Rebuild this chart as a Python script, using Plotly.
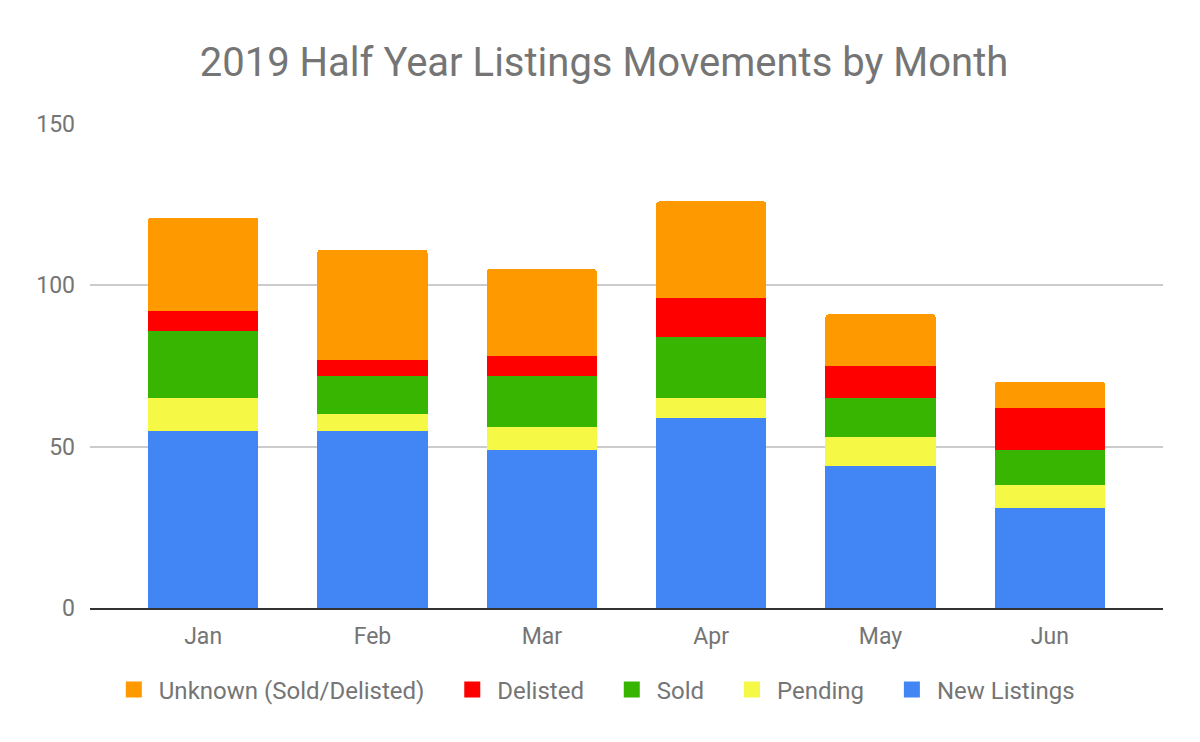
import plotly.graph_objects as go

months = ["Jan", "Feb", "Mar", "Apr", "May", "Jun"]
new_listings = [55, 55, 49, 59, 44, 31]
pending = [10, 5, 7, 6, 9, 7]
sold = [21, 12, 16, 19, 12, 11]
delisted = [6, 5, 6, 12, 10, 13]
unknown = [29, 34, 27, 30, 16, 8]

series = [
    ("New Listings", new_listings, "#4285F4"),
    ("Pending", pending, "#F5F845"),
    ("Sold", sold, "#38B500"),
    ("Delisted", delisted, "#FF0000"),
    ("Unknown (Sold/Delisted)", unknown, "#FF9900"),
]

W, H = 1192, 734
PAD = "\u00a0\u00a0\u00a0"

fig = go.Figure()
for name, vals, color in series:
    fig.add_trace(go.Bar(
        x=months, y=vals, name=name,
        marker=dict(color=color, line=dict(width=0)),
        width=0.65, showlegend=False,
    ))
# legend entries with larger square swatches
for i, (name, vals, color) in enumerate(series):
    fig.add_trace(go.Scatter(
        x=[None], y=[None], name=name + (PAD if i > 0 else ""),
        mode="markers",
        marker=dict(symbol="square", size=22, color=color),
        showlegend=True, hoverinfo="skip",
    ))

fig.update_layout(
    barmode="stack",
    barcornerradius=3,
    width=W, height=H,
    margin=dict(l=82, r=37, t=116, b=134),
    paper_bgcolor="white", plot_bgcolor="white",
    font=dict(family="Roboto", color="#757575", size=23),
    title=dict(text="2019 Half Year Listings Movements by Month",
               x=0.5, xanchor="center", y=1 - 54 / H, yanchor="middle",
               font=dict(size=40, color="#757575", family="Roboto")),
    legend=dict(orientation="h", traceorder="reversed",
                x=0.47, xanchor="center", y=-0.169, yanchor="middle",
                itemsizing="trace", itemwidth=40,
                font=dict(size=24, color="#757575")),
    showlegend=True,
)
fig.update_xaxes(range=[-0.668, 5.668], showgrid=False,
                 showline=True, linecolor="#333333", linewidth=2,
                 layer="above traces", ticklabelstandoff=6,
                 tickfont=dict(size=23, color="#757575"), ticks="")
fig.update_yaxes(range=[0, 150], tickvals=[0, 50, 100, 150],
                 showgrid=True, gridcolor="#cccccc", gridwidth=1.5,
                 zeroline=False, ticks="", ticklabelstandoff=14,
                 tickfont=dict(size=23, color="#757575"))

fig.write_html("out.html")
